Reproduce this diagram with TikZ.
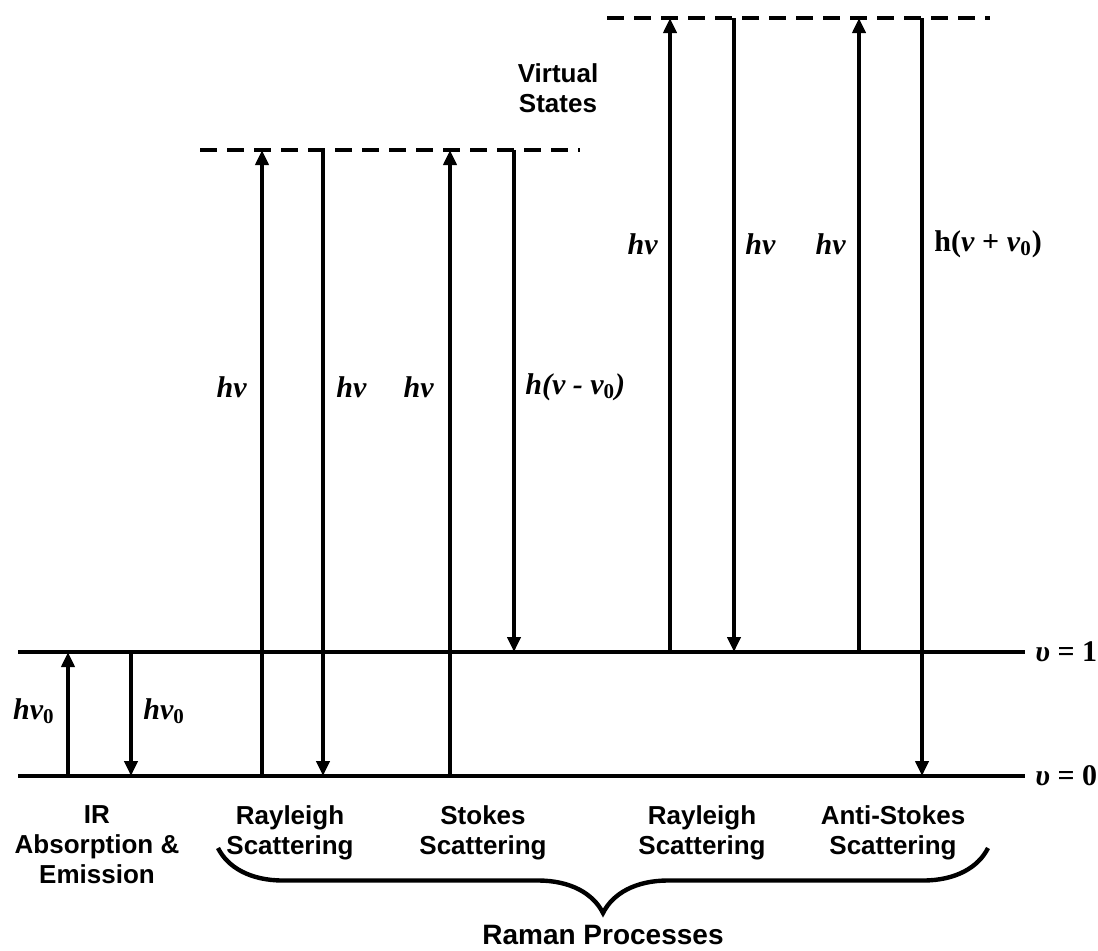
\documentclass[tikz,border=0pt]{standalone}
\usepackage{fontspec}
\setmainfont{Liberation Serif}
\setsansfont{Liberation Sans}
\usepackage{tikz}
\usetikzlibrary{arrows.meta, positioning, decorations.pathreplacing}
\newcommand{\nuzero}{\textit{ν}\textsubscript{\upshape 0}}

\begin{document}
\begin{tikzpicture}[x=0.5pt, y=-0.5pt,
    every node/.style={inner sep=0pt},
    levelline/.style={line width=2.4pt},
    virtline/.style={line width=2.2pt, dash pattern=on 8.5pt off 5pt},
    photon/.style={
        line width=2.4pt,
        -{Triangle[length=7.5pt, width=6.5pt]},
    },
    energy/.style={font=\fontsize{15}{17}\selectfont\bfseries\itshape},
    levellabel/.style={font=\fontsize{15}{17}\selectfont\bfseries, anchor=west},
    proclabel/.style={
        font=\fontsize{13}{15}\selectfont\sffamily\bfseries,
        align=center, anchor=north,
    },
    bracket/.style={
        line width=2.2pt,
        decorate, decoration={brace, amplitude=32.5pt, aspect=0.5},
    },
]
\useasboundingbox (0,0) rectangle (1098,950);

% ── Levels ─────────────────────────────────────────────────────────────
\coordinate (g0w) at (18,776);   \coordinate (g0e) at (1025,776);
\coordinate (g1w) at (18,652);   \coordinate (g1e) at (1025,652);
\coordinate (vlw) at (200,150);  \coordinate (vle) at (580,150);
\coordinate (vhw) at (607,18);   \coordinate (vhe) at (990,18);

\draw[levelline] (g0w) -- (g0e);
\draw[levelline] (g1w) -- (g1e);
\draw[virtline] (vlw) -- (vle);
\draw[virtline] (vhw) -- (vhe);

\node[levellabel] (lv1) at (1035,652) {\textit{υ} = 1};
\node[levellabel] (lv0) at (1035,776) {\textit{υ} = 0};
\node[proclabel] (virt) at (558,63) {Virtual\\States};

% ── Arrow columns ──────────────────────────────────────────────────────
\foreach \n/\x in {ira/68, irb/131, rla/262, rlb/323, sta/450, stb/514,
                   rra/670, rrb/734, asa/859, asb/922}
    \coordinate (\n) at (\x,0);

% IR absorption & emission
\draw[photon] (ira |- g0w) -- (ira |- g1w);
\draw[photon] (irb |- g1w) -- (irb |- g0w);
% Rayleigh (from v = 0)
\draw[photon] (rla |- g0w) -- (rla |- vlw);
\draw[photon] (rlb |- vlw) -- (rlb |- g0w);
% Stokes
\draw[photon] (sta |- g0w) -- (sta |- vlw);
\draw[photon] (stb |- vlw) -- (stb |- g1w);
% Rayleigh (from v = 1)
\draw[photon] (rra |- g1w) -- (rra |- vhw);
\draw[photon] (rrb |- vhw) -- (rrb |- g1w);
% Anti-Stokes
\draw[photon] (asa |- g1w) -- (asa |- vhw);
\draw[photon] (asb |- vhw) -- (asb |- g0w);

% ── Photon energies ────────────────────────────────────────────────────
\node[energy, anchor=east] (e-ira) at (55,711) {h\nuzero};
\node[energy, anchor=west] (e-irb) at (143,711) {h\nuzero};

\node[energy, anchor=east] (e-rla) at (247,387) {hν};
\node[energy, anchor=west] (e-rlb) at (336,387) {hν};
\node[energy, anchor=east] (e-sta) at (434,387) {hν};
\node[energy, anchor=west] (e-stb) at (525,387) {h(ν - \nuzero)};

\node[energy, anchor=east] (e-rra) at (658,244) {hν};
\node[energy, anchor=west] (e-rrb) at (745,244) {hν};
\node[energy, anchor=east] (e-asa) at (846,244) {hν};
\node[energy, anchor=west] (e-asb) at (934,244) {\upshape h(\textit{ν} + \nuzero)};

% ── Process names ──────────────────────────────────────────────────────
\node[proclabel] (p-ir)  at (97,805)  {IR\\Absorption \&\\Emission};
\node[proclabel] (p-rl)  at (290,805) {Rayleigh\\Scattering};
\node[proclabel] (p-st)  at (483,805) {Stokes\\Scattering};
\node[proclabel] (p-rr)  at (702,805) {Rayleigh\\Scattering};
\node[proclabel] (p-as)  at (893,805) {Anti-Stokes\\Scattering};

\coordinate (brL) at (218,848);
\coordinate (brR) at (988,848);
\draw[bracket] (brR) -- (brL);
\node[proclabel, font=\fontsize{14}{16}\selectfont\sffamily\bfseries]
    (raman) at (603,925) {Raman Processes};

\end{tikzpicture}
\end{document}
